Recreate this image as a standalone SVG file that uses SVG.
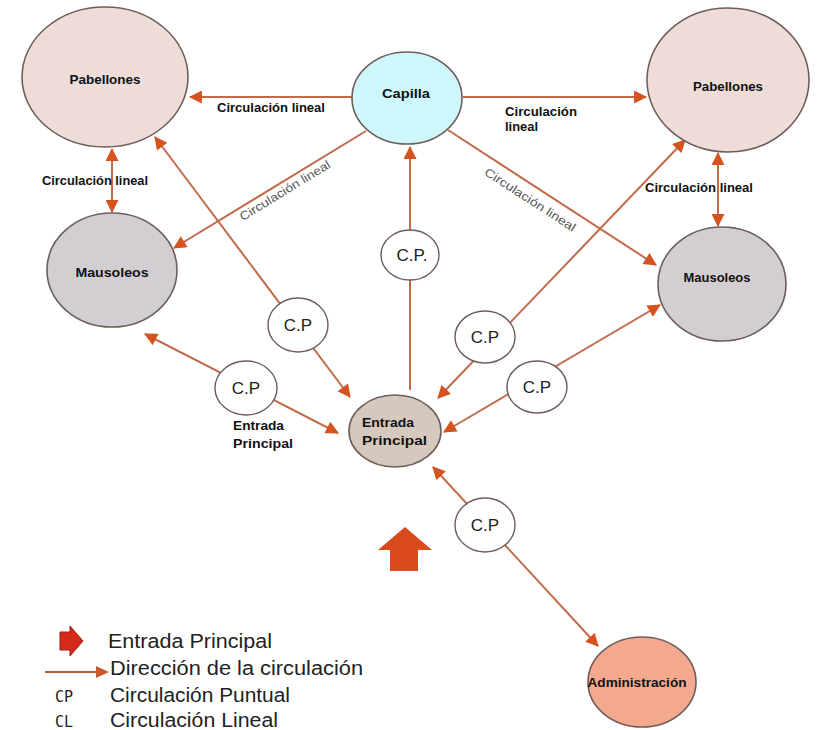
<svg xmlns="http://www.w3.org/2000/svg" width="818" height="730" viewBox="0 0 818 730">
<defs>
<marker id="ah" viewBox="0 0 12 12" refX="11" refY="6" markerWidth="14" markerHeight="13" markerUnits="userSpaceOnUse" orient="auto-start-reverse">
<path d="M0,0 L12,6 L0,12 z" fill="#d4531f"/>
</marker>
<style>
.node{stroke:#6e5e5a;stroke-width:1.6}
.cp{fill:#ffffff;stroke:#6e5e5a;stroke-width:1.4}
.ln{fill:none;stroke:#c06c4c;stroke-width:2}
.lbl{font-family:"Liberation Sans",Arial,sans-serif;font-weight:bold;font-size:13px;fill:#111}
.cl{font-family:"Liberation Sans",Arial,sans-serif;font-weight:bold;font-size:12px;fill:#111}
.rot{font-family:"Liberation Sans",Arial,sans-serif;font-size:12px;fill:#555}
.cpt{font-family:"Liberation Sans",Arial,sans-serif;font-size:17px;fill:#222;text-anchor:middle}
.leg{font-family:"Liberation Sans",Arial,sans-serif;font-size:20px;fill:#222}
.legs{font-family:"DejaVu Sans Mono","Liberation Mono",monospace;font-size:15px;fill:#222}
</style>
</defs>
<rect width="818" height="730" fill="#ffffff"/>

<g id="connectors">
<path class="ln" d="M352,97 L190,97" marker-end="url(#ah)"/>
<path class="ln" d="M463,97 L646,97" marker-end="url(#ah)"/>
<path class="ln" d="M112,149 L112,212" marker-start="url(#ah)" marker-end="url(#ah)"/>
<path class="ln" d="M718,153 L718,226" marker-start="url(#ah)" marker-end="url(#ah)"/>
<path class="ln" d="M366,131 L174,248" marker-end="url(#ah)"/>
<path class="ln" d="M448,130 L656,265" marker-end="url(#ah)"/>
<path class="ln" d="M410,390 L410,147" marker-end="url(#ah)"/>
<path class="ln" d="M155,137 L350,397" marker-start="url(#ah)" marker-end="url(#ah)"/>
<path class="ln" d="M145,334 L338,433" marker-start="url(#ah)" marker-end="url(#ah)"/>
<path class="ln" d="M685,140 L438,398" marker-start="url(#ah)" marker-end="url(#ah)"/>
<path class="ln" d="M660,305 L444,432" marker-start="url(#ah)" marker-end="url(#ah)"/>
<path class="ln" d="M433,467 L598,646" marker-start="url(#ah)" marker-end="url(#ah)"/>

<text class="cl" x="217" y="111.5" textLength="108" lengthAdjust="spacingAndGlyphs">Circulación lineal</text>
<text class="cl" x="505" y="116" textLength="72" lengthAdjust="spacingAndGlyphs">Circulación</text>
<text class="cl" x="505" y="131" textLength="33" lengthAdjust="spacingAndGlyphs">lineal</text>
<text class="cl" x="42" y="184.5" textLength="106" lengthAdjust="spacingAndGlyphs">Circulación lineal</text>
<text class="cl" x="645" y="192" textLength="108" lengthAdjust="spacingAndGlyphs">Circulación lineal</text>
<text class="cl" x="233" y="430" textLength="51" lengthAdjust="spacingAndGlyphs">Entrada</text>
<text class="cl" x="233" y="448" textLength="60" lengthAdjust="spacingAndGlyphs">Principal</text>
<text class="rot" text-anchor="middle" transform="translate(287,194) rotate(-31.5)" textLength="104" lengthAdjust="spacingAndGlyphs">Circulación lineal</text>
<text class="rot" text-anchor="middle" transform="translate(528,203) rotate(33)" textLength="106" lengthAdjust="spacingAndGlyphs">Circulación lineal</text>
</g>

<g id="pabellones-izq">
<ellipse class="node" cx="105" cy="77" rx="83" ry="70" fill="#eddcd8"/>
<text class="lbl" x="105" y="84" text-anchor="middle" textLength="71" lengthAdjust="spacingAndGlyphs">Pabellones</text>
</g>
<g id="capilla">
<ellipse class="node" cx="407" cy="98" rx="55" ry="46" fill="#cdf7fb"/>
<text class="lbl" x="406" y="98" text-anchor="middle" textLength="48" lengthAdjust="spacingAndGlyphs">Capilla</text>
</g>
<g id="pabellones-der">
<ellipse class="node" cx="728" cy="80" rx="81" ry="72" fill="#eddcd8"/>
<text class="lbl" x="728" y="91" text-anchor="middle" textLength="70" lengthAdjust="spacingAndGlyphs">Pabellones</text>
</g>
<g id="mausoleos-izq">
<ellipse class="node" cx="112" cy="270" rx="65" ry="57" fill="#d3ced1"/>
<text class="lbl" x="112" y="277" text-anchor="middle" textLength="73" lengthAdjust="spacingAndGlyphs">Mausoleos</text>
</g>
<g id="mausoleos-der">
<ellipse class="node" cx="722" cy="284" rx="64" ry="57" fill="#d3ced1"/>
<text class="lbl" x="717" y="282" text-anchor="middle" textLength="67" lengthAdjust="spacingAndGlyphs">Mausoleos</text>
</g>
<g id="entrada-principal">
<ellipse class="node" cx="395" cy="431" rx="46" ry="36" fill="#d4c9bc"/>
<text class="lbl" x="362" y="427" textLength="52" lengthAdjust="spacingAndGlyphs">Entrada</text>
<text class="lbl" x="362" y="445" textLength="65" lengthAdjust="spacingAndGlyphs">Principal</text>
</g>
<g id="administracion">
<ellipse class="node" cx="642" cy="682" rx="54" ry="45" fill="#f4a98f"/>
<text class="lbl" x="637" y="687" text-anchor="middle" textLength="99" lengthAdjust="spacingAndGlyphs">Administración</text>
</g>

<g id="cp-centro">
<ellipse class="cp" cx="410" cy="255" rx="29" ry="25"/>
<text class="cpt" x="412" y="261">C.P.</text>
</g>
<g id="cp-izq-sup">
<ellipse class="cp" cx="298" cy="325" rx="30" ry="27"/>
<text class="cpt" x="298" y="331">C.P</text>
</g>
<g id="cp-izq-inf">
<ellipse class="cp" cx="246" cy="388" rx="31" ry="27"/>
<text class="cpt" x="246" y="394">C.P</text>
</g>
<g id="cp-der-sup">
<ellipse class="cp" cx="485" cy="337" rx="30" ry="26"/>
<text class="cpt" x="485" y="343">C.P</text>
</g>
<g id="cp-der-inf">
<ellipse class="cp" cx="537" cy="387" rx="30" ry="26"/>
<text class="cpt" x="537" y="393">C.P</text>
</g>
<g id="cp-inf">
<ellipse class="cp" cx="485" cy="525" rx="30" ry="27"/>
<text class="cpt" x="485" y="531">C.P</text>
</g>

<g id="flecha-entrada">
<path d="M405,527 L432,550 L418,550 L418,571 L390,571 L390,550 L378,550 z" fill="#d94a1c"/>
</g>

<g id="leyenda">
<path d="M60,632 L70,632 L70,626 L83,641 L70,656 L70,650 L60,650 z" fill="#d42a1a" stroke="#a01c10" stroke-width="1"/>
<text class="leg" x="108" y="648" textLength="164" lengthAdjust="spacingAndGlyphs">Entrada Principal</text>
<line x1="45" y1="672" x2="96" y2="672" stroke="#b85a32" stroke-width="2"/>
<path d="M96,666 L109,672 L96,678 z" fill="#c9582a"/>
<text class="leg" x="110" y="675" textLength="253" lengthAdjust="spacingAndGlyphs">Dirección de la circulación</text>
<text class="legs" x="55" y="702">CP</text>
<text class="leg" x="110" y="702" textLength="180" lengthAdjust="spacingAndGlyphs">Circulación Puntual</text>
<text class="legs" x="55" y="727">CL</text>
<text class="leg" x="110" y="727" textLength="168" lengthAdjust="spacingAndGlyphs">Circulación Lineal</text>
</g>
</svg>
